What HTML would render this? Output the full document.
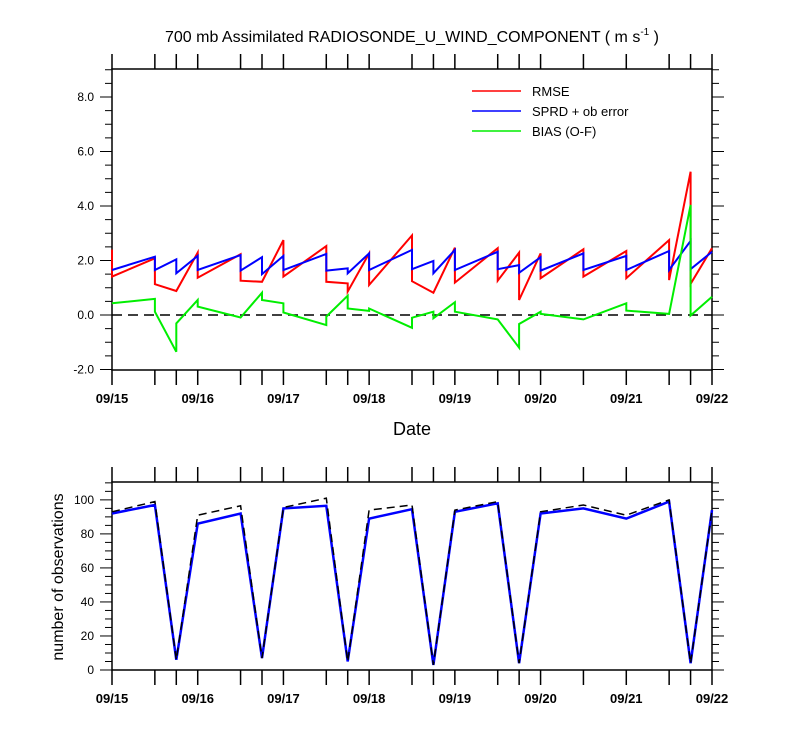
<!DOCTYPE html>
<html><head><meta charset="utf-8"><style>
body{margin:0;background:#fff}
svg text{font-family:"Liberation Sans",Arial,sans-serif;fill:#000}
</style></head><body>
<svg id="chart" width="800" height="750" xmlns="http://www.w3.org/2000/svg"></svg>
<script>
// times in days since 09/15 00Z; each value pair = [arriving, leaving]
const times = [0,0.5,0.75,1,1.5,1.75,2,2.5,2.75,3,3.5,3.75,4,4.5,4.75,5,5.5,6,6.5,6.75,7];
const rmse = [[2.4,1.41],[2.08,1.13],[0.88,0.88],[2.29,1.37],[2.23,1.26],[1.22,1.22],[2.75,1.41],[2.53,1.22],[1.16,0.86],[2.26,1.1],[2.92,1.24],[0.82,0.82],[2.47,1.19],[2.45,1.26],[2.29,0.55],[2.26,1.35],[2.41,1.41],[2.35,1.35],[2.75,1.28],[5.26,1.14],[2.45,2.45]];
const sprd = [[1.65,1.65],[2.14,1.65],[2.04,1.53],[2.17,1.65],[2.2,1.63],[2.12,1.5],[2.17,1.65],[2.24,1.63],[1.71,1.53],[2.26,1.65],[2.39,1.68],[1.98,1.53],[2.39,1.65],[2.32,1.68],[1.83,1.55],[2.12,1.63],[2.26,1.65],[2.17,1.65],[2.35,1.65],[2.72,1.68],[2.32,2.32]];
const bias = [[0.43,0.43],[0.59,0.12],[-1.35,-0.31],[0.55,0.31],[-0.09,-0.09],[0.82,0.55],[0.43,0.09],[-0.37,-0.06],[0.71,0.24],[0.15,0.24],[-0.47,-0.1],[0.12,-0.12],[0.47,0.12],[-0.16,-0.16],[-1.2,-0.33],[0.12,0.04],[-0.16,-0.16],[0.43,0.16],[0.04,0.04],[4.04,-0.02],[0.67,0.67]];
const nobsUsed = [92,97,6,86,92,7,95,96.5,5,89,94.5,3,93,98,4,92,95,89,99,4,94];
const nobsTotal = [93,99,6,91,96.5,7,95.5,101,5,94,97,3,94,99,4,93,97,91,100,4,94];
const dateLabels = ['09/15','09/16','09/17','09/18','09/19','09/20','09/21','09/22'];
const topTicks = [8,6,4,2,0,-2];
const botTicks = [0,20,40,60,80,100];

const NS='http://www.w3.org/2000/svg';
const svg=document.getElementById('chart');
function el(tag,attrs,parent){const e=document.createElementNS(NS,tag);for(const k in attrs)e.setAttribute(k,attrs[k]);(parent||svg).appendChild(e);return e;}
const X0=112,X1=712;
const xS=t=>X0+(X1-X0)*t/7;
const yT=v=>315-(v)*27.25;
const yB=v=>670-v*(188/110.5);

// title
const title=el('text',{x:412,y:42,'text-anchor':'middle','font-size':16});


title.innerHTML='700 mb Assimilated RADIOSONDE_U_WIND_COMPONENT ( m s<tspan dy="-7" font-size="10">-1</tspan><tspan dy="7"> )</tspan>';

function axes(yfn,top,bot,majors,minStep,vmin,vmax,fmt,name){
  const g=el('g',{});
  
  
  el('rect',{x:X0,y:top,width:X1-X0,height:bot-top,fill:'none',stroke:'#000','stroke-width':1.5},g);
  times.forEach(t=>{const x=xS(t);
    el('line',{x1:x,x2:x,y1:bot,y2:bot+15,stroke:'#000','stroke-width':1.5},g);
    el('line',{x1:x,x2:x,y1:top,y2:top-15,stroke:'#000','stroke-width':1.5},g);});
  for(let v=vmin;v<=vmax+1e-6;v+=minStep){const y=yfn(v);const maj=majors.some(m=>Math.abs(m-v)<1e-6);
    const L=maj?12:7;
    el('line',{x1:X0,x2:X0-L,y1:y,y2:y,stroke:'#000','stroke-width':1},g);
    el('line',{x1:X1,x2:X1+L,y1:y,y2:y,stroke:'#000','stroke-width':1},g);}
  majors.forEach(m=>{const t=el('text',{x:X0-18,y:yfn(m)+4,'text-anchor':'end','font-size':12},g);
    
    
    t.textContent=fmt(m);});
  dateLabels.forEach((d,i)=>{const t=el('text',{x:xS(i),y:bot+33,'text-anchor':'middle','font-size':13,'font-weight':'bold'},g);
    
    
    t.textContent=d;});
}
axes(yT,69,370,topTicks,0.5,-2,9,v=>v.toFixed(1),'top');
axes(yB,482,670,botTicks,5,0,110,v=>String(v),'bottom');

// zero line
const z=el('line',{x1:X0,x2:X1,y1:yT(0),y2:yT(0),stroke:'#000','stroke-width':1.5,'stroke-dasharray':'10,6'});



function pairPath(arr){const pts=[];times.forEach((t,i)=>{pts.push([xS(t),yT(arr[i][0])]);pts.push([xS(t),yT(arr[i][1])]);});
  return 'M'+pts.map(p=>p[0].toFixed(1)+','+p[1].toFixed(1)).join('L');}
const sR=el('path',{d:pairPath(rmse),fill:'none',stroke:'#ff0000','stroke-width':2});


const sB=el('path',{d:pairPath(sprd),fill:'none',stroke:'#0000ff','stroke-width':2});


const sG=el('path',{d:pairPath(bias),fill:'none',stroke:'#00ee00','stroke-width':2});



// legend
[['RMSE','#ff0000'],['SPRD + ob error','#0000ff'],['BIAS (O-F)','#00ee00']].forEach((e,i)=>{
  const g=el('g',{});
  
  
  const y=91+i*20;
  el('line',{x1:472,x2:521,y1:y,y2:y,stroke:e[1],'stroke-width':1.5},g);
  const t=el('text',{x:532,y:y+5,'font-size':13},g);t.textContent=e[0];});

// Date label
const dl=el('text',{x:412,y:435,'text-anchor':'middle','font-size':18});


dl.textContent='Date';

// bottom series
function linePath(arr){return 'M'+times.map((t,i)=>xS(t).toFixed(1)+','+yB(arr[i]).toFixed(1)).join('L');}
const nb=el('path',{d:linePath(nobsUsed),fill:'none',stroke:'#0000ff','stroke-width':2.5});


const nk=el('path',{d:linePath(nobsTotal),fill:'none',stroke:'#000','stroke-width':1.5,'stroke-dasharray':'8,5'});



const yl=el('text',{x:0,y:0,'text-anchor':'middle','font-size':16,transform:'translate(63,577) rotate(-90)'});


yl.textContent='number of observations';
</script>
</body></html>
